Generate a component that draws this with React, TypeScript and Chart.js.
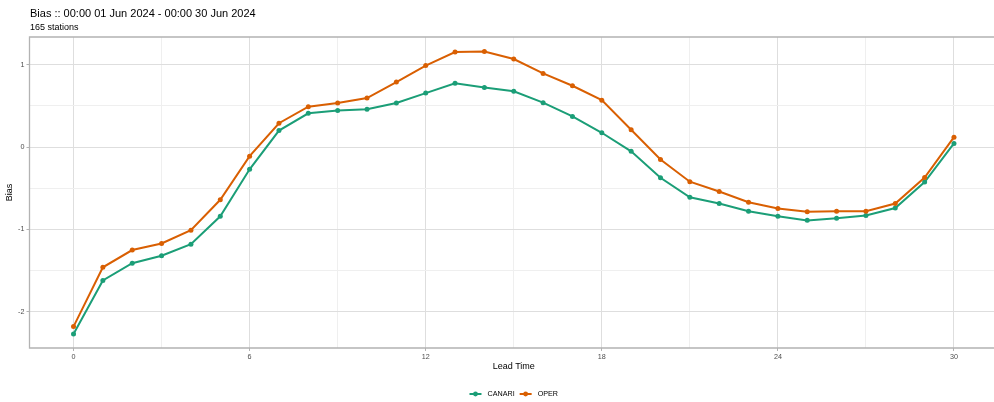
import { useEffect, useRef } from 'react';
import { Chart, registerables } from 'chart.js';

Chart.register(...registerables);

const titleText = 'Bias :: 00:00 01 Jun 2024 - 00:00 30 Jun 2024';
const subtitleText = '165 stations';
const xTitle = 'Lead Time';
const yTitle = 'Bias';

const leadTimes = [0, 1, 2, 3, 4, 5, 6, 7, 8, 9, 10, 11, 12, 13, 14, 15, 16, 17, 18, 19, 20, 21, 22, 23, 24, 25, 26, 27, 28, 29, 30];
const canari = [-2.27, -1.62, -1.41, -1.32, -1.18, -0.84, -0.27, 0.2, 0.41, 0.445, 0.46, 0.535, 0.656, 0.774, 0.723, 0.677, 0.54, 0.373, 0.174, -0.052, -0.373, -0.61, -0.685, -0.78, -0.84, -0.89, -0.863, -0.83, -0.74, -0.425, 0.045];
const oper = [-2.18, -1.46, -1.25, -1.17, -1.01, -0.64, -0.11, 0.29, 0.49, 0.535, 0.595, 0.79, 0.99, 1.155, 1.16, 1.07, 0.895, 0.745, 0.57, 0.21, -0.15, -0.42, -0.54, -0.67, -0.745, -0.785, -0.78, -0.78, -0.685, -0.37, 0.12];

const seriesNames = ['CANARI', 'OPER'];
const seriesColors = ['#1b9e77', '#d95f02'];

const xGridValues = [0, 3, 6, 9, 12, 15, 18, 21, 24, 27, 30];
const xLabelValues = [0, 6, 12, 18, 24, 30];
const yGridValues = [-2, -1.5, -1, -0.5, 0, 0.5, 1];
const yLabelValues = [-2, -1, 0, 1];

const FONT = "'Liberation Sans', Arial, Helvetica, sans-serif";

const decorPlugin = {
  id: 'decor',
  beforeDraw(chart: any) {
    const { ctx, width, height } = chart;
    ctx.save();
    ctx.fillStyle = '#ffffff';
    ctx.fillRect(0, 0, width, height);
    ctx.restore();
  },
  afterDraw(chart: any) {
    const { ctx, chartArea } = chart;
    ctx.save();
    // panel border
    ctx.strokeStyle = '#b3b3b3';
    ctx.lineWidth = 1.3;
    ctx.beginPath();
    ctx.moveTo(chartArea.right, chartArea.top);
    ctx.lineTo(chartArea.left, chartArea.top);
    ctx.lineTo(chartArea.left, chartArea.bottom);
    ctx.lineTo(chartArea.right, chartArea.bottom);
    ctx.stroke();

    // title + subtitle
    ctx.fillStyle = '#000000';
    ctx.textAlign = 'left';
    ctx.textBaseline = 'alphabetic';
    ctx.font = `11px ${FONT}`;
    ctx.fillText(titleText, 30, 17);
    ctx.font = `9px ${FONT}`;
    ctx.fillText(subtitleText, 30, 30);

    // legend
    const ds = chart.data.datasets;
    ctx.font = `7.2px ${FONT}`;
    const glyphW = 12;
    const gap = 6;
    const itemGap = 5;
    const widths = ds.map((d: any) => ctx.measureText(d.label).width);
    let total = 0;
    ds.forEach((_: any, i: number) => {
      total += glyphW + gap + widths[i];
      if (i < ds.length - 1) total += itemGap;
    });
    const cx = (chartArea.left + chartArea.right) / 2;
    let x = cx - total / 2;
    const y = 394;
    ds.forEach((d: any, i: number) => {
      ctx.strokeStyle = d.borderColor;
      ctx.lineWidth = 2;
      ctx.beginPath();
      ctx.moveTo(x, y);
      ctx.lineTo(x + glyphW, y);
      ctx.stroke();
      ctx.fillStyle = d.borderColor;
      ctx.beginPath();
      ctx.arc(x + glyphW / 2, y, 2.4, 0, Math.PI * 2);
      ctx.fill();
      ctx.fillStyle = '#000000';
      ctx.textBaseline = 'middle';
      ctx.fillText(d.label, x + glyphW + gap, y + 0.5);
      x += glyphW + gap + widths[i] + itemGap;
    });
    ctx.restore();
  },
};

export default function App() {
  const canvasRef = useRef<HTMLCanvasElement | null>(null);

  useEffect(() => {
    if (!canvasRef.current) return;
    const series = [canari, oper];
    const chart = new Chart(canvasRef.current, {
      type: 'line',
      data: {
        datasets: series.map((vals, i) => ({
          label: seriesNames[i],
          data: leadTimes.map((t, j) => ({ x: t, y: vals[j] })),
          borderColor: seriesColors[i],
          backgroundColor: seriesColors[i],
          pointBackgroundColor: seriesColors[i],
          pointBorderWidth: 0,
          pointRadius: 2.5,
          borderWidth: 2,
          tension: 0,
          fill: false,
          order: series.length - i,
        })),
      },
      options: {
        animation: false,
        responsive: false,
        events: [],
        layout: { padding: { top: 37, left: 0, right: 0, bottom: 0 } },
        plugins: {
          legend: { display: false },
          title: { display: false },
          tooltip: { enabled: false },
        },
        scales: {
          x: {
            type: 'linear',
            min: -1.5,
            max: 31.5,
            afterFit: (scale: any) => {
              scale.height = 54;
              scale.paddingLeft = 0;
              scale.paddingRight = 0;
            },
            afterBuildTicks: (scale: any) => {
              scale.ticks = xGridValues.map((v) => ({ value: v }));
            },
            border: { display: false },
            grid: {
              color: (c: any) => (xLabelValues.includes(c.tick?.value) ? '#dedede' : '#efefef'),
              lineWidth: 1,
              drawTicks: true,
              tickLength: 3,
              tickColor: (c: any) => (xLabelValues.includes(c.tick?.value) ? '#b3b3b3' : 'rgba(0,0,0,0)'),
              tickWidth: 1,
            },
            ticks: {
              autoSkip: false,
              maxRotation: 0,
              padding: 2,
              color: '#4d4d4d',
              font: { family: FONT, size: 7.2 },
              callback: (v: any) => (xLabelValues.includes(Number(v)) ? String(v) : ''),
            },
            title: {
              display: true,
              text: xTitle,
              color: '#000000',
              font: { family: FONT, size: 9 },
              padding: { top: 0, bottom: 29.6 },
            },
          },
          y: {
            type: 'linear',
            min: -2.44,
            max: 1.337,
            afterFit: (scale: any) => {
              scale.width = 29.5;
              scale.paddingTop = 0;
              scale.paddingBottom = 0;
            },
            afterBuildTicks: (scale: any) => {
              scale.ticks = yGridValues.map((v) => ({ value: v }));
            },
            border: { display: false },
            grid: {
              color: (c: any) => (yLabelValues.includes(c.tick?.value) ? '#dedede' : '#efefef'),
              lineWidth: 1,
              drawTicks: true,
              tickLength: 3,
              tickColor: (c: any) => (yLabelValues.includes(c.tick?.value) ? '#b3b3b3' : 'rgba(0,0,0,0)'),
              tickWidth: 1,
            },
            ticks: {
              autoSkip: false,
              padding: 2,
              color: '#4d4d4d',
              font: { family: FONT, size: 7.2 },
              callback: (v: any) => (yLabelValues.includes(Number(v)) ? String(v) : ''),
            },
            title: {
              display: true,
              text: yTitle,
              color: '#000000',
              font: { family: FONT, size: 9 },
              padding: { top: 4.6, bottom: 0 },
            },
          },
        },
      },
      plugins: [decorPlugin],
    });
    return () => chart.destroy();
  }, []);

  return (
    <div style={{ position: 'fixed', left: 0, top: 0, width: 994, height: 402, overflow: 'hidden', background: '#ffffff' }}>
      <canvas ref={canvasRef} width={1002} height={402} style={{ display: 'block', width: 1002, height: 402 }} />
    </div>
  );
}
